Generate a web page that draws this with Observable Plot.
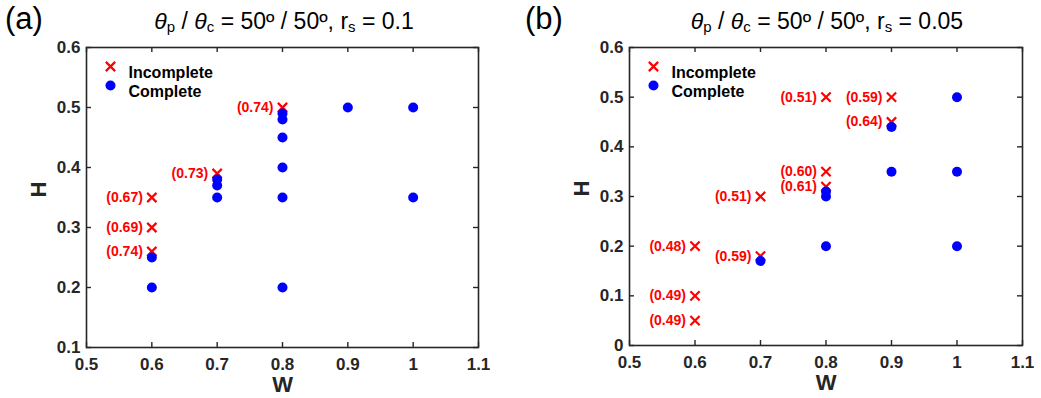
<!DOCTYPE html>
<html>
<head>
<meta charset="utf-8">
<script src="https://cdn.jsdelivr.net/npm/d3@7"></script>
<script src="https://cdn.jsdelivr.net/npm/@observablehq/plot@0.6"></script>
<style>
  html, body { margin: 0; padding: 0; background: #fff; }
  #fig { position: relative; width: 1041px; height: 398px; font-family: "Liberation Sans", Arial, sans-serif; overflow: hidden; }
  #fig .panel { position: absolute; top: 0; }
  .tag { position: absolute; top: -1px; font-size: 31px; color: #000; line-height: 40px; }
  .title { position: absolute; top: 7px; font-size: 23px; color: #000; line-height: 28px; white-space: nowrap; transform: translateX(-50%); }
  .title sub { font-size: 15px; vertical-align: -3px; line-height: 0; }
</style>
</head>
<body>
<div id="fig">
  <div class="tag" style="left:5px">(a)</div>
  <div class="title" style="left:284px"><i>θ</i><sub>p</sub> / <i>θ</i><sub>c</sub> = 50º / 50º, r<sub>s</sub> = 0.1</div>
  <div class="tag" style="left:525px">(b)</div>
  <div class="title" style="left:827px"><i>θ</i><sub>p</sub> / <i>θ</i><sub>c</sub> = 50º / 50º, r<sub>s</sub> = 0.05</div>
</div>
<script>
// Axis ticks
const ticksW = [0.5, 0.6, 0.7, 0.8, 0.9, 1, 1.1];
const ticksHa = [0.1, 0.2, 0.3, 0.4, 0.5, 0.6];
const ticksHb = [0, 0.1, 0.2, 0.3, 0.4, 0.5, 0.6];

// Panel (a): r_s = 0.1
const aIncW = [0.6, 0.6, 0.6, 0.7, 0.8];
const aIncH = [0.35, 0.30, 0.26, 0.39, 0.50];
const aIncVal = [0.67, 0.69, 0.74, 0.73, 0.74];
const aComW = [0.6, 0.6, 0.7, 0.7, 0.7, 0.8, 0.8, 0.8, 0.8, 0.8, 0.8, 0.9, 1, 1];
const aComH = [0.25, 0.20, 0.38, 0.37, 0.35, 0.49, 0.48, 0.45, 0.40, 0.35, 0.20, 0.50, 0.50, 0.35];

// Panel (b): r_s = 0.05
const bIncW = [0.6, 0.6, 0.6, 0.7, 0.7, 0.8, 0.8, 0.8, 0.9, 0.9];
const bIncH = [0.20, 0.10, 0.05, 0.30, 0.18, 0.50, 0.35, 0.32, 0.50, 0.45];
const bIncVal = [0.48, 0.49, 0.49, 0.51, 0.59, 0.51, 0.60, 0.61, 0.59, 0.64];
const bComW = [0.7, 0.8, 0.8, 0.8, 0.9, 0.9, 1, 1, 1];
const bComH = [0.17, 0.31, 0.30, 0.20, 0.44, 0.35, 0.50, 0.35, 0.20];

const legendNames = ["Incomplete", "Complete"];

const ink = "#262626";
const red = "#ff0000";
const blue = "#0000ff";
const fmt = d3.format("~g");

function rows(ws, hs, vals) {
  return ws.map((w, i) => ({w, h: hs[i], v: vals ? vals[i] : null}));
}

function panel({width, marginLeft, marginRight, marginBottom, yDomain, yTicks, inc, com}) {
  const height = 398, marginTop = 47;
  const fw = width - marginLeft - marginRight;
  const fh = height - marginTop - marginBottom;
  const tick = 5;
  const cross = {symbol: "times", r: 4.3, stroke: red, strokeWidth: 2.2};
  return Plot.plot({
    width, height, marginTop, marginBottom, marginLeft, marginRight,
    x: {domain: [0.5, 1.1]},
    y: {domain: yDomain},
    style: {fontFamily: "'Liberation Sans', Arial, sans-serif", fontSize: "17px", fontWeight: "bold", color: ink, background: "transparent"},
    marks: [
      Plot.axisX(ticksW, {tickSize: 0, tickPadding: 10, label: null, fill: ink, fontSize: 17, fontWeight: "bold", tickFormat: fmt}),
      Plot.axisY(yTicks, {tickSize: 0, tickPadding: 6, label: null, fill: ink, fontSize: 17, fontWeight: "bold", tickFormat: fmt}),
      // inward ticks on all four sides
      Plot.tickX(ticksW, {x: d => d, insetTop: fh - tick, stroke: ink, strokeWidth: 1.4}),
      Plot.tickX(ticksW, {x: d => d, insetBottom: fh - tick, stroke: ink, strokeWidth: 1.4}),
      Plot.tickY(yTicks, {y: d => d, insetRight: fw - tick, stroke: ink, strokeWidth: 1.4}),
      Plot.tickY(yTicks, {y: d => d, insetLeft: fw - tick, stroke: ink, strokeWidth: 1.4}),
      Plot.frame({stroke: ink, strokeWidth: 1.6}),
      // incomplete runs with their labelled values
      Plot.dot(inc, {x: "w", y: "h", ...cross}),
      Plot.text(inc, {x: "w", y: "h", text: d => `(${d.v.toFixed(2)})`, dx: -9, textAnchor: "end", fill: red, fontSize: 14, fontWeight: "bold"}),
      // complete runs
      Plot.dot(com, {x: "w", y: "h", r: 5, fill: blue}),
      // legend
      Plot.dot([legendNames[0]], {frameAnchor: "top-left", dx: 24, dy: 19, ...cross}),
      Plot.dot([legendNames[1]], {frameAnchor: "top-left", dx: 24, dy: 38, r: 5, fill: blue}),
      Plot.text([legendNames[0]], {frameAnchor: "top-left", dx: 42, dy: 19, text: d => d, textAnchor: "start", fontSize: 16, fontWeight: "bold", fill: "#000"}),
      Plot.text([legendNames[1]], {frameAnchor: "top-left", dx: 42, dy: 38, text: d => d, textAnchor: "start", fontSize: 16, fontWeight: "bold", fill: "#000"}),
      // axis titles
      Plot.text(["W"], {frameAnchor: "bottom", dy: 44, text: d => d, fontSize: 22, fontWeight: "bold", fill: ink}),
      Plot.text(["H"], {frameAnchor: "left", dx: -48, rotate: -90, text: d => d, fontSize: 22, fontWeight: "bold", fill: ink})
    ]
  });
}

const fig = document.getElementById("fig");

const a = panel({
  width: 520, marginLeft: 86, marginRight: 42, marginBottom: 51,
  yDomain: [0.1, 0.6], yTicks: ticksHa,
  inc: rows(aIncW, aIncH, aIncVal), com: rows(aComW, aComH)
});
a.classList.add("panel");
a.style.left = "0px";
fig.appendChild(a);

const b = panel({
  width: 521, marginLeft: 109, marginRight: 19, marginBottom: 53,
  yDomain: [0, 0.6], yTicks: ticksHb,
  inc: rows(bIncW, bIncH, bIncVal), com: rows(bComW, bComH)
});
b.classList.add("panel");
b.style.left = "520px";
fig.appendChild(b);
</script>
</body>
</html>
